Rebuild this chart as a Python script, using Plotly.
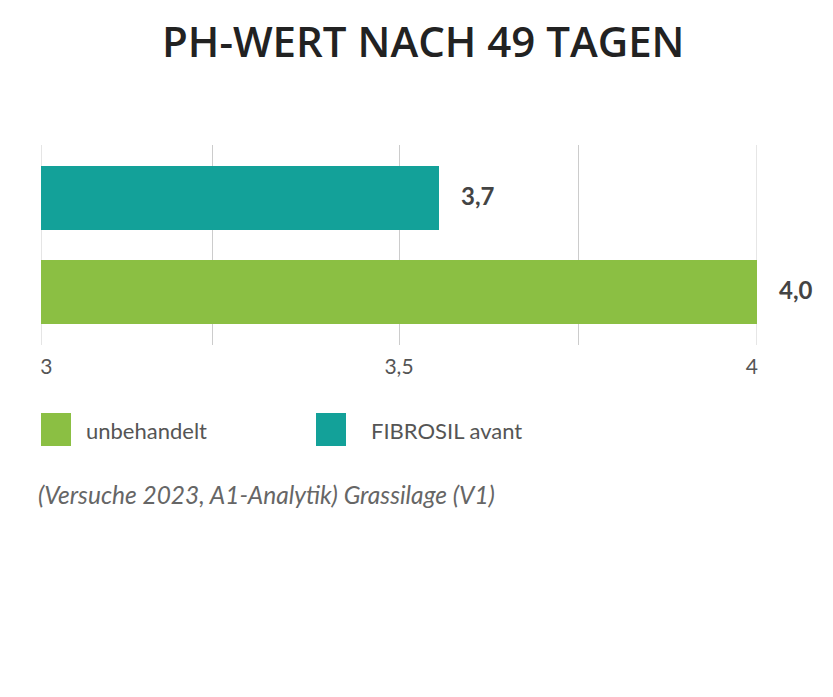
import plotly.graph_objects as go

categories = ["unbehandelt", "FIBROSIL avant"]
values = [4.0, 3.556]
value_labels = ["4,0", "3,7"]
colors = ["#8BBF43", "#13A199"]
tick_vals = [3, 3.24, 3.5, 3.75, 4]
tick_text = ["\u20023", "", "3,5", "", "4\u2002"]
title = "PH-WERT NACH 49 TAGEN"
caption = "(Versuche 2023, A1-Analytik) Grassilage (V1)"

OFF = 8  # default page margin of the html body
W, H = 833 - 2 * OFF, 697 - 2 * OFF
L, R, T, B = 41 - OFF, 757 - OFF, 145 - OFF, 345 - OFF

fig = go.Figure()
fig.add_trace(go.Bar(
    y=list(range(len(categories))), x=values, orientation="h",
    marker=dict(color=colors, line=dict(width=0)), width=0.677,
    hoverinfo="skip", showlegend=False,
))

for i, (v, t) in enumerate(zip(values, value_labels)):
    fig.add_annotation(x=v, y=i, xref="x", yref="y", text="<b>%s</b>" % t,
                       showarrow=False, xanchor="left", xshift=20, yshift=3,
                       font=dict(family="Lato", size=24, color="#444444"))

# edge gridlines (plotly omits gridlines at the exact range ends)
for xv in (tick_vals[0], tick_vals[-1]):
    fig.add_shape(type="line", xref="x", yref="paper", x0=xv, x1=xv, y0=0, y1=1,
                  line=dict(color="#CCCCCC", width=1), layer="below")

def px(xp):
    return (xp - OFF - L) / (R - L)

def py(yp):
    return (B - (yp - OFF)) / (B - T)

# title
fig.add_annotation(x=px(423), y=py(40), xref="paper", yref="paper", xanchor="center",
                   yanchor="middle", text=title, showarrow=False,
                   font=dict(family="Open Sans", size=42, weight=600, color="#222222"))

legend_items = [(41, 71, 84, categories[0], colors[0]), (316, 346, 369, categories[1], colors[1])]
for x0, x1, tx, name, col in legend_items:
    fig.add_shape(type="rect", xref="paper", yref="paper", x0=px(x0), x1=px(x1),
                  y0=py(446), y1=py(413), fillcolor=col, line=dict(width=0))
    fig.add_annotation(x=px(tx), y=py(430), xref="paper", yref="paper", xanchor="left",
                       yanchor="middle", text=name, showarrow=False,
                       font=dict(family="Lato", size=22, color="#555555"))

fig.add_annotation(x=px(36), y=py(494), xref="paper", yref="paper", xanchor="left",
                   yanchor="middle", text="<i>%s</i>" % caption, showarrow=False,
                   font=dict(family="Lato", size=24.5, color="#666666"))

fig.update_layout(
    width=W, height=H, margin=dict(l=L, r=W - R, t=T, b=H - B, pad=0),
    paper_bgcolor="white", plot_bgcolor="white", bargap=0,
    xaxis=dict(range=[3, 4], tickvals=tick_vals, ticktext=tick_text, showgrid=True,
               gridcolor="#CCCCCC", gridwidth=1, zeroline=False, showline=False,
               ticks="", ticklabelstandoff=7,
               tickfont=dict(family="Lato", size=21, color="#555555"),
               fixedrange=True),
    yaxis=dict(range=[-0.556, 1.561], showticklabels=False, showgrid=False,
               zeroline=False, showline=False, fixedrange=True),
)
fig.write_html("out.html")
